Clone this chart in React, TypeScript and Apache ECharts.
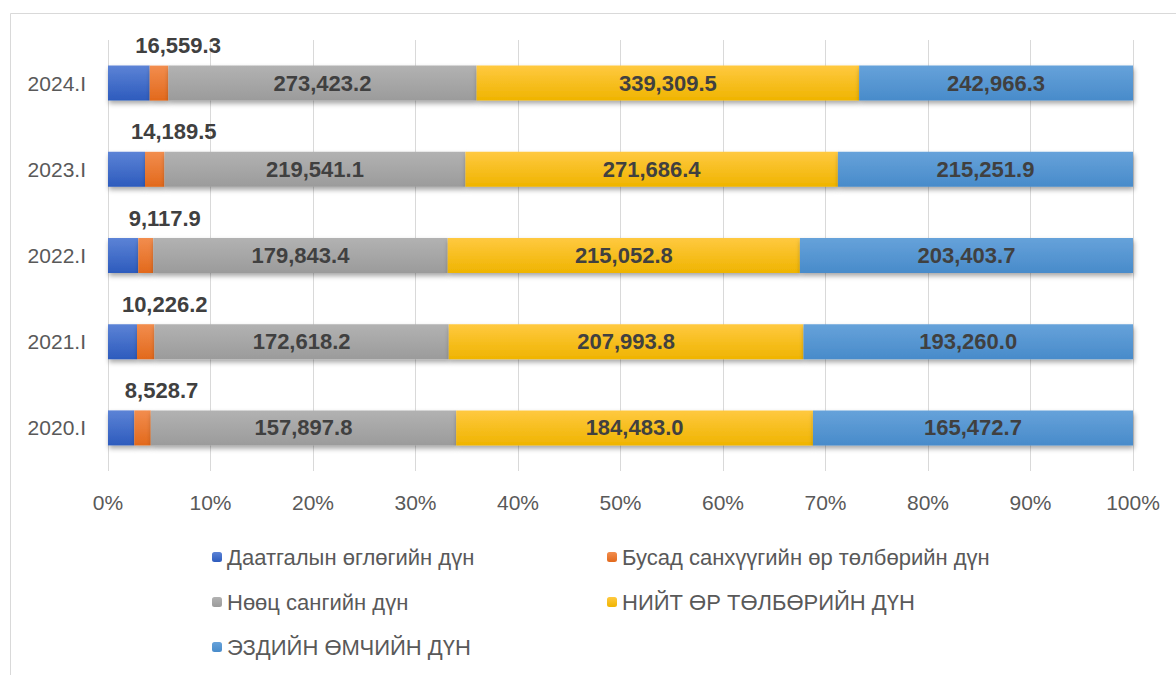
import React, { useEffect, useRef } from "react";
import * as echarts from "echarts";

const categories = ["2020.I", "2021.I", "2022.I", "2023.I", "2024.I"];
const seriesNames = [
  "Даатгалын өглөгийн дүн",
  "Бусад санхүүгийн өр төлбөрийн дүн",
  "Нөөц сангийн дүн",
  "НИЙТ ӨР ТӨЛБӨРИЙН ДҮН",
  "ЭЗДИЙН ӨМЧИЙН ДҮН",
];
const insurancePayables = [13600, 17000, 18500, 27000, 37000];
const otherLiabilities = [8528.7, 10226.2, 9117.9, 14189.5, 16559.3];
const reserveFunds = [157897.8, 172618.2, 179843.4, 219541.1, 273423.2];
const totalLiabilities = [184483.0, 207993.8, 215052.8, 271686.4, 339309.5];
const ownersEquity = [165472.7, 193260.0, 203403.7, 215251.9, 242966.3];

const FONT = "'Liberation Sans', Arial, sans-serif";

function grad(top: string, bottom: string) {
  return new echarts.graphic.LinearGradient(0, 0, 0, 1, [
    { offset: 0, color: top },
    { offset: 1, color: bottom },
  ]);
}

export default function App() {
  const ref = useRef<HTMLDivElement>(null);
  useEffect(() => {
    if (!ref.current) return;
    const chart = echarts.init(ref.current, undefined, { renderer: "svg" });
    const all = [insurancePayables, otherLiabilities, reserveFunds, totalLiabilities, ownersEquity];
    const totals = categories.map((_, i) => all.reduce((s, arr) => s + arr[i], 0));
    const colors = [
      grad("#5c83d6", "#2d5bbd"),
      grad("#f28d4e", "#e2691c"),
      grad("#b2b2b2", "#9b9b9b"),
      grad("#ffc940", "#efb400"),
      grad("#66a2da", "#488bca"),
    ];
    const fmt = (v: number) =>
      v.toLocaleString("en-US", { minimumFractionDigits: 1, maximumFractionDigits: 1 });
    const series = all.map((arr, si) => ({
      name: seriesNames[si],
      type: "bar",
      stack: "total",
      barWidth: 35,
      data: arr.map((v, i) => ({ value: (v / totals[i]) * 100, raw: v })),
      itemStyle: {
        color: colors[si],
        shadowColor: "rgba(0,0,0,0.35)",
        shadowBlur: 5,
        shadowOffsetX: 1,
        shadowOffsetY: 3,
      },
      label: {
        show: si !== 0,
        position: si === 1 ? "top" : "inside",
        distance: 9,
        offset: si === 1 ? [19, 0] : [0, 0],
        color: "#404040",
        fontWeight: "bold",
        fontSize: 22,
        fontFamily: FONT,
        formatter: (p: any) => fmt(arr[p.dataIndex]),
      },
    }));
    const legendText = { color: "#595959", fontSize: 22, lineHeight: 22, fontFamily: FONT };
    chart.setOption({
      animation: false,
      backgroundColor: "#ffffff",
      grid: { left: 108, right: 43, top: 40, height: 431 },
      xAxis: {
        type: "value",
        min: 0,
        max: 100,
        interval: 10,
        axisLine: { show: false },
        axisTick: { show: false },
        splitLine: { show: true, lineStyle: { color: "#d9d9d9", width: 1 } },
        axisLabel: {
          formatter: "{value}%",
          color: "#595959",
          fontSize: 21,
          fontFamily: FONT,
          margin: 21,
        },
      },
      yAxis: {
        type: "category",
        data: categories,
        axisLine: { show: false },
        axisTick: { show: false },
        axisLabel: { color: "#595959", fontSize: 21, fontFamily: FONT, margin: 22 },
      },
      legend: [
        {
          data: [seriesNames[0], seriesNames[2], seriesNames[4]],
          orient: "vertical",
          left: 207,
          top: 541,
          itemWidth: 10,
          itemHeight: 10,
          itemGap: 23,
          textStyle: legendText,
        },
        {
          data: [seriesNames[1], seriesNames[3]],
          orient: "vertical",
          left: 602,
          top: 541,
          itemWidth: 10,
          itemHeight: 10,
          itemGap: 23,
          textStyle: legendText,
        },
      ],
      graphic: [
        {
          type: "rect",
          left: 8,
          top: 11,
          shape: { width: 1190, height: 690 },
          style: { fill: "none", stroke: "#d9d9d9", lineWidth: 1 },
          silent: true,
        },
      ],
      series,
    });
    return () => chart.dispose();
  }, []);
  return (
    <div
      ref={ref}
      style={{ position: "absolute", left: 0, top: 0, width: 1176, height: 675 }}
    />
  );
}
